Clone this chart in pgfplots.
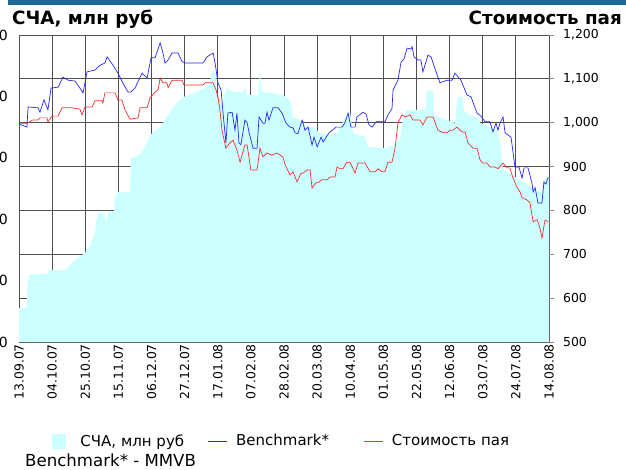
\documentclass[border=0pt]{standalone}
\usepackage{fontspec}
\setmainfont{DejaVu Sans}
\usepackage{pgfplots}
\pgfplotsset{compat=1.18}
\definecolor{sca}{HTML}{CCFFFF}
\definecolor{bm}{HTML}{2828F0}
\definecolor{pay}{HTML}{F03030}
\definecolor{topbar}{HTML}{1B6A96}
\definecolor{grd}{HTML}{505050}
\pgfplotsset{base/.style={scale only axis, width=530pt, height=307pt,
  at={(19pt,127pt)}, anchor=south west, xmin=0, xmax=240,
  axis line style={draw=none},
  /pgf/number format/assume math mode=true,
  tick label style={font=\fontsize{12.4}{14}\selectfont}}}
\begin{document}
\begin{tikzpicture}
% grid and right axis labels
\begin{axis}[base, ymin=500, ymax=1200, ytick={500,600,...,1200},
  xtick={0,15,...,240}, xticklabels={},
  xmajorgrids, ymajorgrids, grid style={grd, line width=0.8pt},
  x tick style={draw=none}, ytick pos=right, yticklabel pos=right,
  y tick style={black!45, line width=0.8pt}, tick align=outside, major tick length=5pt,
  yticklabel style={/pgf/number format/1000 sep={,}, anchor=west, inner sep=0pt, xshift=9pt}]
\addplot[draw=none] coordinates {(0,500)};
\end{axis}
% area, left axis, dates
\begin{axis}[base, ymin=0, ymax=500, ytick={0,100,...,500}, ytick pos=left,
  y tick style={draw=none}, yticklabel style={anchor=east, inner sep=0pt, xshift=-11pt, font=\fontsize{14}{16}\selectfont},
  xtick={0,15,...,240}, x tick style={draw=none},
  xticklabels={13.09.07,04.10.07,25.10.07,15.11.07,06.12.07,27.12.07,17.01.08,07.02.08,28.02.08,20.03.08,10.04.08,01.05.08,22.05.08,12.06.08,03.07.08,24.07.08,14.08.08},
  xticklabel style={rotate=90, anchor=east, inner sep=2pt}]
\addplot[fill=sca, draw=none] coordinates {
(0,55)(3.6,55)(3.8,90)(4.5,109)(13.1,112)(13.6,117)(20.8,117)(25.4,134)(29.9,145)(32.2,158)(34.4,178)(34.9,194)(35.8,210)(38.9,210)(39.4,191)(40.3,212)(43,212)(43.5,236)(44.8,244)(50.3,244)(50.7,300)(54.8,305)(57.1,318)(59.3,337)(61.6,344)(63.9,349)(66.1,362)(68.4,375)(70.6,386)(74.3,399)(79.7,406)(84.2,414)(86.5,419)(87.4,443)(88.8,440)(89.7,399)(91.9,389)(94.2,414)(96.9,407)(101.4,407)(102.3,415)(103.2,402)(108.2,402)(109.1,438)(110,407)(113.7,406)(119.5,402)(122.7,394)(124.1,366)(127.2,362)(130.4,350)(133.1,350)(136.3,340)(140.8,337)(144,340)(147.6,365)(149.9,375)(151.2,340)(156.7,334)(158,318)(165.7,316)(170.3,321)(172.5,332)(173.9,365)(175.7,378)(183.9,378)(184.8,410)(187.5,410)(187.9,370)(192.9,362)(197.4,357)(197.9,378)(198.8,399)(201.1,399)(201.5,375)(204.2,370)(207.9,365)(208.8,357)(216.9,345)(217.8,324)(218.7,296)(219.2,280)(223.2,272)(226.8,264)(230.5,256)(233.7,248)(236.8,243)(237.7,264)(240,269)
} \closedcycle;
\end{axis}
% lines
\begin{axis}[base, ymin=500, ymax=1200, hide axis,
  legend style={at={(rel axis cs:0.062,-0.3225)}, anchor=west, draw=none, fill=none, inner sep=0pt,
    legend columns=3, font=\fontsize{15}{17}\selectfont,
    /tikz/every odd column/.append style={column sep=7pt},
    /tikz/every even column/.append style={column sep=0pt}},
  legend cell align=left]
\addlegendimage{legend image code/.code={\fill[sca] (0pt,-7pt) rectangle (13pt,7pt); \path (19pt,0pt);}}
\addlegendentry{\makebox[125pt][l]{СЧА, млн руб}}
\addplot[bm, line width=0.7pt, legend image code/.code={\draw[bm, line width=0.7pt] (0pt,0pt) -- (19pt,0pt);}] coordinates {
(0,997)(3.6,990)(4.1,1036)(8.6,1034)(9.5,1024)(11.3,1052)(13.1,1029)(14.5,1079)(17.7,1081)(19.9,1104)(22.2,1097)(25.4,1095)(27.6,1079)(29,1068)(30.8,1116)(34.4,1120)(36.7,1131)(38.9,1136)(39.9,1150)(42.6,1131)(44.8,1113)(47.5,1086)(49.4,1070)(50.7,1070)(52.5,1079)(55.7,1113)(58,1102)(59.8,1148)(61.6,1148)(62.5,1161)(63.9,1182)(65.2,1159)(66.1,1136)(67.5,1143)(69.3,1159)(72,1159)(73.8,1140)(75.2,1136)(83.3,1136)(85.1,1150)(87.9,1159)(88.8,1136)(90.1,1091)(91.5,1075)(92.4,1022)(93.7,954)(94.6,1022)(96.5,1024)(97.8,983)(98.7,1022)(99.6,954)(100.5,950)(102.3,1006)(103.3,1000)(104.2,977)(106,942)(107.8,942)(108.7,1013)(110.5,999)(111.4,999)(112.3,1024)(113.2,1006)(115,1034)(117.3,1034)(119.1,1022)(120.9,999)(122.7,990)(124.1,988)(125,977)(126.3,975)(128.2,1006)(129.5,983)(130.9,990)(132.7,949)(133.6,967)(135,945)(136.8,967)(137.7,956)(140.4,977)(143.6,990)(146.3,990)(147.6,1000)(149,1022)(150.3,990)(152.2,990)(153,1013)(155.8,1024)(157.1,1020)(158.5,995)(159.9,990)(161.7,1002)(165.7,1002)(167.1,1018)(168.9,1032)(169.4,1075)(171.6,1097)(173,1138)(174.3,1145)(175.7,1170)(177.5,1168)(178,1173)(178.9,1150)(180.7,1143)(182,1143)(182.9,1116)(185.2,1154)(186.6,1150)(187.5,1136)(190.6,1091)(193.8,1097)(196.1,1097)(197.4,1113)(200.1,1097)(202.9,1063)(204.7,1059)(207.4,1022)(209.2,1015)(211,1002)(213.3,1002)(214.6,979)(216,999)(216.9,983)(217.8,999)(219.2,1013)(220.1,977)(222.8,967)(224.6,899)(226.4,899)(227.8,874)(228.7,897)(230.5,897)(232.3,862)(232.8,842)(233.7,852)(235,817)(236.8,817)(237.7,865)(238.6,860)(239.6,876)
};
\addlegendentry{\makebox[125pt][l]{Benchmark*}}
\addplot[pay, line width=0.7pt, legend image code/.code={\draw[pay, line width=0.7pt] (0pt,0pt) -- (19pt,0pt);}] coordinates {
(0,999)(4,999)(6,1006)(8.6,1006)(9.5,1011)(12.7,1011)(13.1,1002)(14.9,1015)(17.7,1015)(19.5,1034)(24,1034)(27.6,1031)(28.5,1018)(29.9,1036)(33.1,1036)(34.4,1050)(37.6,1050)(38,1045)(38.9,1068)(43.5,1068)(44.8,1052)(46.6,1052)(48,1029)(50.3,1008)(53.9,1011)(54.8,1034)(58,1034)(59.3,1056)(61.6,1070)(63,1075)(63.9,1102)(65.2,1091)(67,1091)(67.5,1080)(69.3,1097)(73.8,1097)(74.7,1086)(83.3,1086)(84.2,1091)(87.9,1091)(89.2,1075)(90.1,1059)(91,1029)(91.9,983)(93.7,942)(95.5,954)(96.9,960)(98.7,938)(100.1,910)(102.3,949)(103.3,949)(105,892)(107.8,892)(109.1,942)(110.5,922)(112.3,931)(114.6,926)(116.8,931)(119.5,922)(120.5,904)(122.7,881)(124.1,888)(125.9,865)(127.7,885)(128.6,885)(130.4,892)(131.8,892)(132.7,851)(134.5,863)(135.4,863)(137.2,870)(139.5,870)(140.8,876)(143.1,876)(144,899)(145.4,895)(146.7,895)(148.5,910)(149.9,910)(152.2,885)(153.5,908)(156.7,908)(159,888)(161.2,888)(162.6,895)(164.4,888)(165.7,888)(167.1,910)(168.9,910)(170.3,942)(171.6,999)(173.4,1018)(174.8,1013)(177.1,1018)(178.4,1006)(181.6,1006)(182.9,995)(184.8,1013)(187.5,1013)(189.7,983)(192,977)(193.8,977)(195.2,983)(196.5,983)(198.3,990)(200.6,979)(202,979)(203.3,954)(205.6,942)(207.4,942)(208.8,915)(210.1,908)(211.9,908)(213.3,899)(215.6,899)(216.9,895)(219.2,908)(221,897)(222.3,897)(223.7,874)(225.5,853)(226.9,842)(227.8,829)(230,824)(231.4,817)(232.8,774)(234.6,779)(235.9,760)(236.8,737)(238.2,778)(239.6,774)
};
\addlegendentry{Стоимость пая}
\end{axis}
\fill[topbar] (8pt,464pt) rectangle (626pt,469pt);
\node[anchor=base west, inner sep=0pt, font=\bfseries\fontsize{18.3}{20}\selectfont] at (12pt,444pt) {СЧА, млн руб};
\node[anchor=base east, inner sep=0pt, font=\bfseries\fontsize{18.3}{20}\selectfont] at (622pt,444pt) {Стоимость пая};
\node[anchor=base west, inner sep=0pt, font=\fontsize{16.6}{18}\selectfont] at (25pt,3pt) {Benchmark* - MMVB};
\pgfresetboundingbox
\path[use as bounding box] (0,0) rectangle (626pt,469pt);
\end{tikzpicture}
\end{document}
